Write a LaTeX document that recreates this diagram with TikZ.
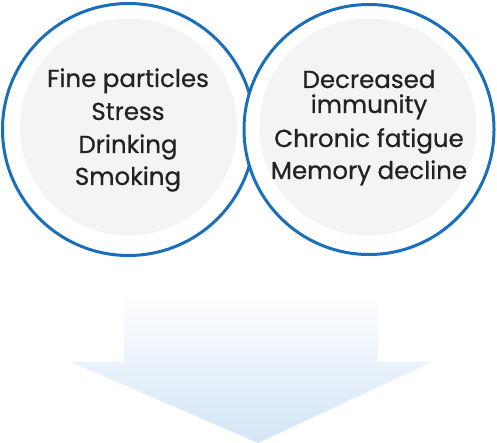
\documentclass[tikz,border=0pt]{standalone}
\usepackage{fontspec}
\setmainfont{Poppins}[FakeBold=0.6]
\definecolor{ringblue}{HTML}{1B6FB9}
\definecolor{discgray}{HTML}{F4F4F4}
\definecolor{txt}{HTML}{222222}
\definecolor{arrowblue}{HTML}{D3E5F6}
\tikzset{
  ring/.style={draw=ringblue, line width=3pt, fill=white},
  disc/.style={fill=discgray},
  label/.style={text=txt, align=center, font=\fontsize{24.5}{32.5}\selectfont}
}
\begin{document}
\begin{tikzpicture}[x=1pt,y=-1pt]
\useasboundingbox (0,0) rectangle (497,443);
% left circle
\coordinate (lc) at (128.5,129.5);
\draw[ring] (lc) circle[radius=126];
\fill[disc] (lc) ++(0,-2.5) circle[radius=108.5];
% right circle
\coordinate (rc) at (369,129.5);
\draw[ring] (rc) circle[radius=125];
\fill[disc] (rc) ++(-1,-2.5) circle[radius=108.5];
% texts
\node[label, anchor=base] (t1) at (128,87) {Fine particles};
\node[label, anchor=base] (t2) at (128,120) {Stress};
\node[label, anchor=base] (t3) at (128,153) {Drinking};
\node[label, anchor=base] (t4) at (128,185) {Smoking};
\node[label, anchor=base] (r1) at (369,88) {Decreased};
\node[label, anchor=base] (r2) at (369,113) {immunity};
\node[label, anchor=base] (r3) at (369,147) {Chronic fatigue};
\node[label, anchor=base] (r4) at (369,179) {Memory decline};
% arrow
\shade[top color=white, bottom color=arrowblue]
  (124,290) -- (378,290) -- (378,362) -- (432,362) -- (258,443) -- (71,362) -- (124,362) -- cycle;
\end{tikzpicture}
\end{document}
